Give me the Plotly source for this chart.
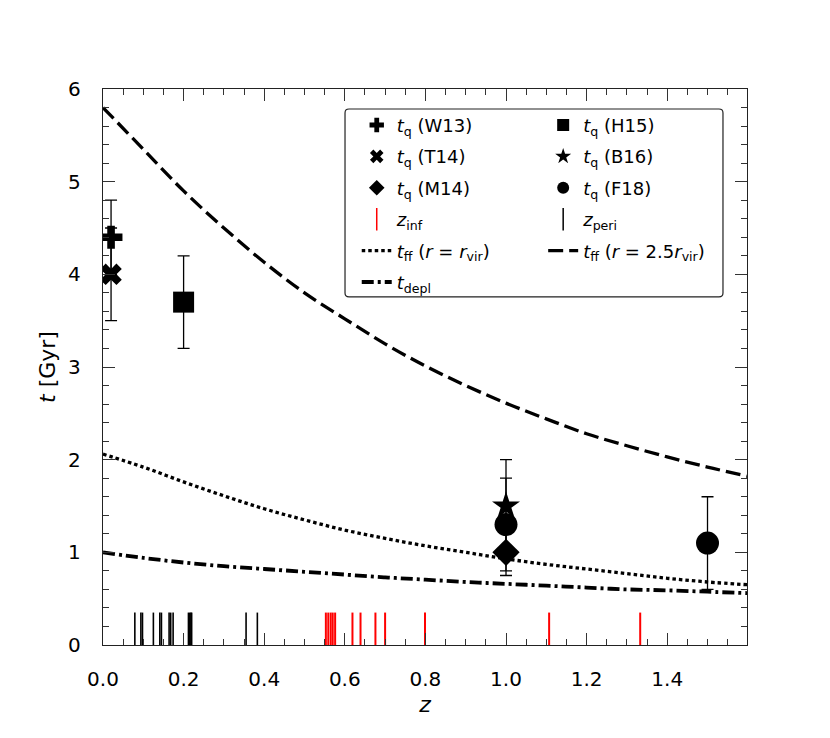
"""
Quenching timescales vs redshift: t_q measurements, free-fall and depletion times
"""

import plotly.graph_objects as go

# --- measurements of t_q ---
z_w13, t_w13, e_w13 = [0.02], [4.4], [0.4]
z_t14, t_t14, e_t14 = [0.02], [4.0], [0.5]
z_m14, t_m14, e_m14 = [1.0], [1.0], [0.25]
z_h15, t_h15, e_h15 = [0.2], [3.7], [0.5]
z_b16, t_b16, e_b16 = [1.0], [1.5], [0.5]
z_f18, t_f18, e_f18 = [1.0, 1.5], [1.3, 1.1], [0.5, 0.5]

# --- infall / pericentre redshifts (rug) ---
z_inf = [0.553, 0.559, 0.565, 0.570, 0.576, 0.619, 0.639, 0.676, 0.700, 0.799, 1.107, 1.333]
z_peri = [0.079, 0.094, 0.098, 0.125, 0.141, 0.145, 0.164, 0.168, 0.174,
          0.212, 0.215, 0.218, 0.220, 0.355, 0.383]
RUG_H = 0.35

# --- timescale curves ---
z_curve = [0.0, 0.1, 0.2, 0.3, 0.4, 0.5, 0.6, 0.7, 0.8, 0.9,
           1.0, 1.1, 1.2, 1.3, 1.4, 1.5, 1.6]
t_ff_25 = [5.80, 5.35, 4.90, 4.50, 4.13, 3.80, 3.52, 3.25, 3.01, 2.80,
           2.61, 2.44, 2.28, 2.15, 2.03, 1.92, 1.82]
t_ff_1 = [2.06, 1.92, 1.76, 1.61, 1.47, 1.35, 1.24, 1.15, 1.07, 1.00,
          0.93, 0.87, 0.82, 0.77, 0.72, 0.68, 0.65]
t_depl = [1.00, 0.94, 0.89, 0.85, 0.82, 0.79, 0.76, 0.73, 0.705, 0.68,
          0.66, 0.64, 0.62, 0.60, 0.59, 0.575, 0.56]

FONT = "DejaVu Sans"
TQ = "<i>t</i><sub>q</sub>"

DOTTED = dict(color="black", width=3.3, dash="3.5px,3px")
DASHDOT = dict(color="black", width=3.8, dash="12px,4px,3px,4px")
DASHED = dict(color="black", width=3.3, dash="15px,6px")


def rug(zs, h):
    xs, ys = [], []
    for z in zs:
        xs += [z, z, None]
        ys += [0, h, None]
    return xs, ys


fig = go.Figure()

# curves
fig.add_trace(go.Scatter(x=z_curve, y=t_ff_1, mode="lines", line_shape="spline",
                         line=DOTTED, showlegend=False))
fig.add_trace(go.Scatter(x=z_curve, y=t_depl, mode="lines", line_shape="spline",
                         line=DASHDOT, showlegend=False))
fig.add_trace(go.Scatter(x=z_curve, y=t_ff_25, mode="lines", line_shape="spline",
                         line=DASHED, showlegend=False))

# rug lines
xr, yr = rug(z_peri, RUG_H)
fig.add_trace(go.Scatter(x=xr, y=yr, mode="lines", line=dict(color="black", width=1.6),
                         showlegend=False))
xr, yr = rug(z_inf, RUG_H)
fig.add_trace(go.Scatter(x=xr, y=yr, mode="lines", line=dict(color="red", width=2),
                         showlegend=False))

# measurements with error bars
points = [
    (z_w13, t_w13, e_w13, "cross", 19),
    (z_t14, t_t14, e_t14, "x", 19),
    (z_h15, t_h15, e_h15, "square", 21),
    (z_f18, t_f18, e_f18, "circle", 23),
    (z_m14, t_m14, e_m14, "diamond", 21),
    (z_b16, t_b16, e_b16, "star", 21),
]
for zs, ts, es, sym, size in points:
    fig.add_trace(go.Scatter(
        x=zs, y=ts, mode="markers",
        marker=dict(symbol=sym, size=size, color="black", line=dict(width=0)),
        error_y=dict(type="data", array=es, color="black", thickness=1.3, width=6),
        showlegend=False))


# legend-only entries, two columns
def leg_marker(sym, label, leg, size=12):
    fig.add_trace(go.Scatter(
        x=[None], y=[None], mode="markers",
        marker=dict(symbol=sym, size=size, color="black", line=dict(width=0)),
        name=f"{TQ} ({label})", legend=leg, legendgroup=f"{leg}-{label}"))


def leg_rug(color, label, leg):
    fig.add_trace(go.Scatter(
        x=[None], y=[None], mode="markers",
        marker=dict(symbol="line-ns", size=18, line=dict(color=color, width=1.5)),
        name=label, legend=leg, legendgroup=f"{leg}-{label}"))


def leg_line(line, label, leg):
    fig.add_trace(go.Scatter(
        x=[None], y=[None], mode="lines", line=line,
        name=label, legend=leg, legendgroup=f"{leg}-{label}"))


leg_marker("cross", "W13", "legend")
leg_marker("x", "T14", "legend")
leg_marker("diamond", "M14", "legend")
leg_rug("red", "<i>z</i><sub>inf</sub>", "legend")
leg_line(DOTTED, "<i>t</i><sub>ff</sub> (<i>r</i> = <i>r</i><sub>vir</sub>)", "legend")
leg_line(DASHDOT, "<i>t</i><sub>depl</sub>", "legend")

leg_marker("square", "H15", "legend2")
leg_marker("star", "B16", "legend2")
leg_marker("circle", "F18", "legend2")
leg_rug("black", "<i>z</i><sub>peri</sub>", "legend2")
leg_line(DASHED, "<i>t</i><sub>ff</sub> (<i>r</i> = 2.5<i>r</i><sub>vir</sub>)", "legend2")

axis_common = dict(
    showline=True, linecolor="#222", linewidth=1.3, mirror="allticks",
    ticks="inside", ticklen=12, tickwidth=1.1, tickcolor="#333",
    showgrid=False, zeroline=False,
    tickfont=dict(family=FONT, size=20, color="black"),
)

legend_common = dict(xanchor="left", yanchor="top", y=0.968,
                     bgcolor="rgba(0,0,0,0)", font=dict(family=FONT, size=18),
                     tracegroupgap=5, traceorder="grouped")

fig.update_layout(
    width=830, height=738,
    margin=dict(l=95, r=91, t=81, b=101),
    plot_bgcolor="white", paper_bgcolor="white",
    font=dict(family=FONT, color="black"),
    xaxis=dict(range=[0, 1.598], dtick=0.2, tick0=0, tickformat=".1f",
               ticklabelstandoff=16,
               minor=dict(ticks="inside", dtick=0.05, ticklen=6, tickcolor="#333"),
               title=dict(text="<i>z</i>", font=dict(size=22), standoff=6),
               **axis_common),
    yaxis=dict(range=[0, 6], dtick=1, tick0=0,
               ticklabelstandoff=17,
               minor=dict(ticks="inside", dtick=0.2, ticklen=6, tickcolor="#333"),
               title=dict(text="<i>t</i> [Gyr]", font=dict(size=22), standoff=6),
               **axis_common),
    legend=dict(x=0.394, **legend_common),
    legend2=dict(x=0.6835, **legend_common),
    shapes=[dict(type="path", xref="paper", yref="paper", layer="above",
                 path="M 0.3820,0.964 L 0.9565,0.964 Q 0.9627,0.964 0.9627,0.957 "
                      "L 0.9627,0.633 Q 0.9627,0.626 0.9565,0.626 "
                      "L 0.3820,0.626 Q 0.3758,0.626 0.3758,0.633 "
                      "L 0.3758,0.957 Q 0.3758,0.964 0.3820,0.964 Z",
                 line=dict(color="#222", width=1.2), fillcolor="rgba(255,255,255,0.85)")],
)

fig.write_html("out.html")
